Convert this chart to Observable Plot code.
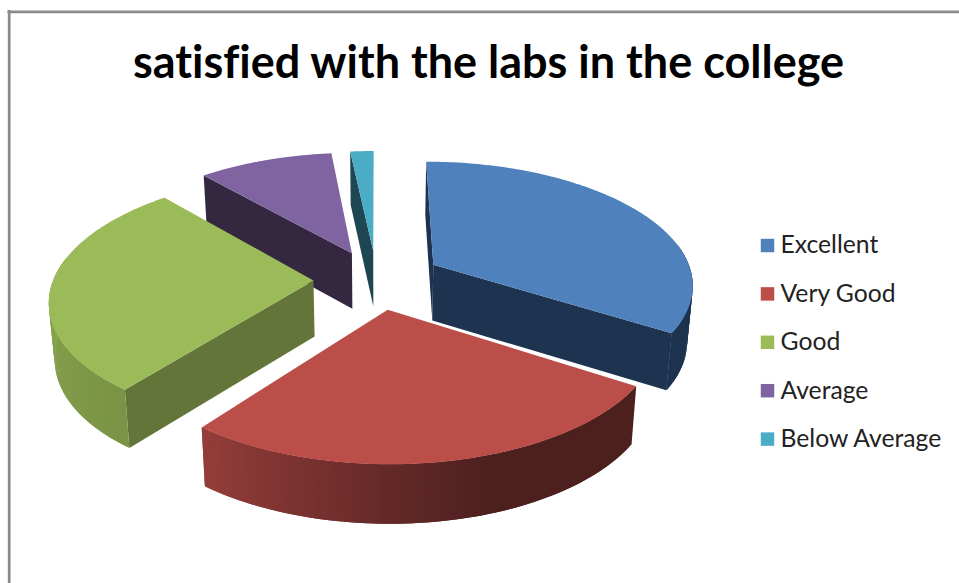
<!DOCTYPE html>
<html>
<head>
<meta charset="utf-8">
<style>html,body{margin:0;padding:0;background:#fff}svg{display:block}svg text{font-variant-ligatures:none}</style>
<script src="https://cdn.jsdelivr.net/npm/d3@7"></script>
<script src="https://cdn.jsdelivr.net/npm/@observablehq/plot@0.6"></script>
</head>
<body>
<script>
const categories = ["Excellent", "Very Good", "Good", "Average", "Below Average"];
const shares = [34, 26.5, 28, 9.8, 1.7];
const topColors = ["#4F81BD", "#BC4E4A", "#9BBB59", "#8064A2", "#4BACC6"];
const sideColors = ["#1D334F", "#4D1E1D", "#64753A", "#332840", "#1F4753"];
const titleText = "satisfied with the labs in the college";

// Tilted, exploded 3-D pie view
const view = {cx: 376, cy: 279, radius: 260, explode: [66, 63, 63, 63, 63], tilt: 0.47, persp: 0.146, depth: 56, shrink: 0.982};
const arcs = d3.pie().sort(null).value(d => d)(shares);

function project(X, V, floor) {
  const f = 1 / (1 - view.persp * V / view.radius);
  const x = X * f, y = view.tilt * V * f;
  return floor
    ? {x: view.cx + x * view.shrink, y: view.cy + y + view.depth * Math.pow(f, 0.3)}
    : {x: view.cx + x, y: view.cy + y};
}
const wallLight = d3.scaleLinear().domain([162, 216, 270]).range([0.41, 0.78, 0.88]).clamp(true);

const polys = [];
let pid = 0;
function addPoly(points, color) {
  const id = pid++;
  for (const p of points) polys.push({id, x: p.x, y: p.y, color});
}
const drawOrder = [4, 3, 0, 2, 1];
const segments = 120;
for (const i of drawOrder) {
  const a = arcs[i], mid = (a.startAngle + a.endAngle) / 2;
  const ox = view.explode[i] * Math.sin(mid), ov = -view.explode[i] * Math.cos(mid);
  const at = (t, floor) => project(ox + view.radius * Math.sin(t), ov - view.radius * Math.cos(t), floor);
  const apex = floor => project(ox, ov, floor);
  const steps = d3.range(0, segments + 1).map(k => a.startAngle + (a.endAngle - a.startAngle) * k / segments);
  // radial walls: only those that face the viewer
  if (Math.sin(a.endAngle) > 1e-6)
    addPoly([apex(false), at(a.endAngle, false), at(a.endAngle, true), apex(true)], sideColors[i]);
  if (-Math.sin(a.startAngle) >= -1e-6)
    addPoly([apex(false), at(a.startAngle, false), at(a.startAngle, true), apex(true)], sideColors[i]);
  // outer wall, shaded strip by strip; each strip overlaps the next to hide seams
  for (let k = 0; k < segments; k++) {
    const t0 = steps[k], t1 = steps[Math.min(k + 2, segments)], deg = (steps[k] + steps[k + 1]) / 2 * 180 / Math.PI;
    if (deg < 80 || deg > 280) continue;
    const shade = (i === 1 || i === 2) ? d3.interpolateRgb("#000", topColors[i])(wallLight(deg)) : sideColors[i];
    addPoly([at(t0, false), at(t1, false), at(t1, true), at(t0, true)], shade);
  }
  // top face
  addPoly([apex(false), ...steps.map(t => at(t, false))], topColors[i]);
}

const legend = categories.map((name, i) => ({name, color: topColors[i], y: 245 + i * 48.4}));

const chart = Plot.plot({
  width: 959, height: 583,
  margin: 0,
  x: {axis: null, domain: [0, 959], range: [0, 959]},
  y: {axis: null, domain: [0, 583], range: [0, 583]},
  color: {type: "identity"},
  marks: [
    Plot.ruleX([8.7], {y1: 10, y2: 583, stroke: "#8a8a8a", strokeWidth: 2.7}),
    Plot.ruleY([11.3], {x1: 7.4, x2: 959, stroke: "#8a8a8a", strokeWidth: 2.7}),
    Plot.line(polys, {x: "x", y: "y", z: "id", fill: "color", curve: "linear"}),
    Plot.text([titleText], {x: 488, y: 63, text: d => d, fontFamily: "Lato", fontWeight: 700, fontSize: 45, fill: "#000", textAnchor: "middle"}),
    Plot.dot(legend, {x: 767, y: "y", symbol: "square", r: 7.6, fill: "color", stroke: null}),
    Plot.text(legend, {x: 780, y: "y", text: "name", fontFamily: "Lato", fontSize: 24.7, fill: "#222", textAnchor: "start"})
  ]
});
document.body.appendChild(chart);
</script>
</body>
</html>
